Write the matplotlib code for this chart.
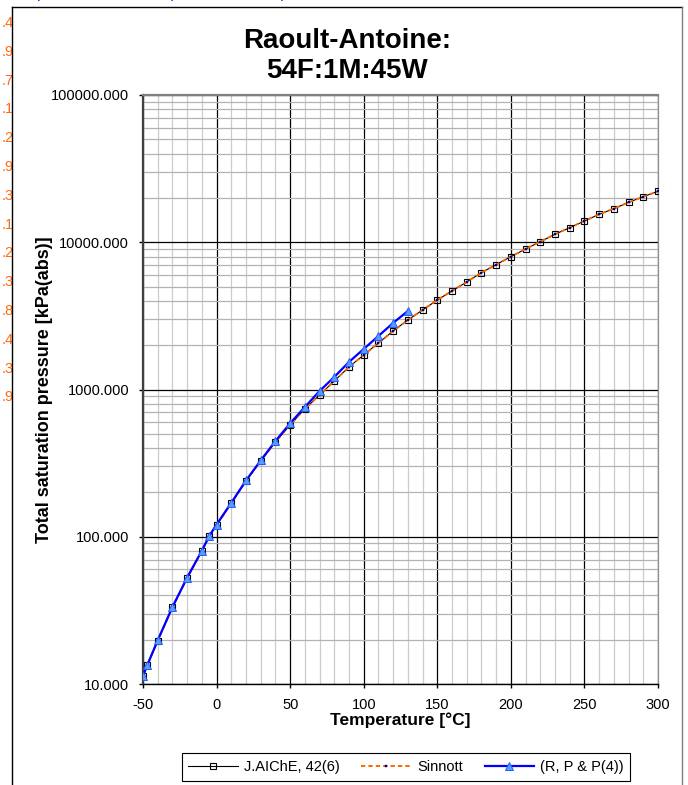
import matplotlib
matplotlib.use('Agg')
import matplotlib.pyplot as plt
from matplotlib.ticker import MultipleLocator, LogLocator, FixedLocator, NullFormatter, FuncFormatter
from matplotlib.patches import Rectangle
from matplotlib.lines import Line2D

plt.rcParams['font.family'] = ['Liberation Sans', 'DejaVu Sans']
plt.rcParams['axes.unicode_minus'] = False

# ---------------- data ----------------
temps_aiche = [-50, -47, -40, -30, -20, -10, -5, 0, 10, 20, 30, 40, 50, 60, 70, 80, 90,
               100, 110, 120, 130, 140, 150, 160, 170, 180, 190, 200, 210, 220, 230,
               240, 250, 260, 270, 280, 290, 300]
p_aiche = [11.3, 13.5, 19.7, 33.2, 52.5, 80, 101, 120, 169, 239, 327, 440, 575, 738, 918,
           1143, 1422, 1716, 2069, 2496, 2964, 3465, 4052, 4668, 5375, 6213, 7046, 7979,
           9000, 10090, 11330, 12560, 13940, 15480, 16900, 18670, 20390, 22180]

temps_sinnott = [-50, -47, -40, -30, -20, -10, -5, 0, 10, 20, 30, 40, 50, 60, 70, 80, 90,
                 100, 110, 120, 130, 140, 150, 160, 170, 180, 190, 200, 210, 220, 230,
                 240, 250, 260, 270, 280, 290, 300]
p_sinnott = [11.3, 13.5, 19.7, 33.2, 52.5, 80, 101, 120, 169, 239, 327, 440, 575, 738, 918,
             1143, 1422, 1716, 2069, 2496, 2964, 3465, 4052, 4668, 5375, 6213, 7046, 7979,
             9000, 10090, 11330, 12560, 13940, 15480, 16900, 18670, 20390, 22180]

temps_rpp = [-50, -47, -40, -30, -20, -10, -5, 0, 10, 20, 30, 40, 50, 60, 70, 80, 90,
             100, 110, 120, 130]
p_rpp = [11.3, 13.5, 19.8, 33.3, 52.8, 80.5, 101, 121, 170, 241, 330, 446, 590, 760, 977,
         1216, 1538, 1884, 2307, 2832, 3412]

series_labels = ['J.AIChE, 42(6)', 'Sinnott', '(R, P & P(4))']
x_ticks = [-50, 0, 50, 100, 150, 200, 250, 300]
y_ticks = [10, 100, 1000, 10000, 100000]
title_text = 'Raoult-Antoine:\n54F:1M:45W'
x_label = 'Temperature [°C]'
y_label = 'Total saturation pressure [kPa(abs)]'
margin_digits = ['.4', '.9', '.7', '.1', '.2', '.9', '.3', '.1', '.2', '.3', '.8', '.4', '.3', '.9']
top_note = '(based on Antoine equation constants)'

# ---------------- figure ----------------
W, H = 688, 785
fig = plt.figure(figsize=(W / 100, H / 100), dpi=100)
fig.patch.set_facecolor('white')


def fx(x):
    return x / W


def fy(y):
    return 1 - y / H


# clipped text fragments outside the chart area
for i, s in enumerate(margin_digits):
    fig.text(fx(14), fy(23 + 28.8 * i), s, ha='right', va='center', fontsize=10.5,
             color='#FF6A13', zorder=0.5)
fig.text(fx(35), fy(-1.5), top_note, ha='left', va='baseline', fontsize=10.5,
         color='#0000EE', zorder=0.5)

# chart area
fig.add_artist(Rectangle((fx(12), fy(800)), (682 - 12) / W, (800 - 7) / H,
                         transform=fig.transFigure, facecolor='white', edgecolor='none',
                         zorder=1))
fig.add_artist(Line2D([fx(12), fx(12)], [fy(7), fy(800)], transform=fig.transFigure,
                      color='black', lw=1.0, zorder=1.1))
fig.add_artist(Line2D([fx(12), fx(682)], [fy(7), fy(7)], transform=fig.transFigure,
                      color='black', lw=1.0, zorder=1.1))
fig.add_artist(Line2D([fx(682), fx(682)], [fy(7), fy(800)], transform=fig.transFigure,
                      color='#808080', lw=1.0, zorder=1.1))

fig.text(fx(347), fy(56), title_text, ha='center', va='center', fontsize=20,
         fontweight='bold', linespacing=1.15, zorder=3)

ax = fig.add_axes([fx(143), fy(684), (658 - 143) / W, (684 - 95) / H])
ax.set_zorder(2)
ax.set_facecolor('white')
ax.set_yscale('log')
ax.set_xlim(-50, 300)
ax.set_ylim(10, 100000)

ax.xaxis.set_major_locator(FixedLocator(x_ticks))
ax.xaxis.set_minor_locator(MultipleLocator(10))
ax.yaxis.set_major_locator(FixedLocator(y_ticks))
ax.yaxis.set_minor_locator(LogLocator(base=10, subs=[2, 3, 4, 5, 6, 7, 8, 9], numticks=20))
ax.yaxis.set_major_formatter(FuncFormatter(lambda v, p: f'{v:.3f}'))
ax.yaxis.set_minor_formatter(NullFormatter())

ax.tick_params(axis='both', which='major', direction='out', length=3, width=1,
               labelsize=10.5, color='black')
ax.tick_params(axis='x', which='major', pad=7)
ax.tick_params(axis='y', which='major', pad=7)
ax.tick_params(axis='both', which='minor', length=0)

ax.set_axisbelow(True)
ax.grid(True, axis='x', which='minor', color='#cccccc', lw=0.9)
ax.grid(True, axis='y', which='minor', color='#b4b4b4', lw=0.9)
ax.grid(True, axis='both', which='major', color='black', lw=0.9)

ax.spines['left'].set_color('#404040')
ax.spines['left'].set_linewidth(1.6)
ax.spines['top'].set_color('#808080')
ax.spines['top'].set_linewidth(1.6)
ax.spines['right'].set_color('#909090')
ax.spines['right'].set_linewidth(0.9)
ax.spines['bottom'].set_color('black')
ax.spines['bottom'].set_linewidth(1.0)

ax.plot(temps_aiche, p_aiche, color='black', lw=0.8, marker='s', markersize=4.6,
        markerfacecolor='none', markeredgecolor='black', markeredgewidth=0.8,
        label=series_labels[0], zorder=3)
ax.plot(temps_sinnott, p_sinnott, color='#FF6600', lw=1.4, linestyle=(0, (2.2, 1.6)),
        marker='s', markersize=2.0, markerfacecolor='#000080', markeredgecolor='#000080',
        markeredgewidth=0.3, label=series_labels[1], zorder=4)
ax.plot(temps_rpp, p_rpp, color='#0000FF', lw=1.6, marker='^', markersize=5.5,
        markerfacecolor='#5B9BFF', markeredgecolor='#1F5FFF', markeredgewidth=0.7,
        label=series_labels[2], zorder=5)

ax.set_xlabel(x_label, fontsize=12.5, fontweight='bold', va='center')
ax.xaxis.set_label_coords(0.5, -(720 - 684) / (684 - 95))
ax.set_ylabel(y_label, fontsize=13, fontweight='bold', va='center')
ax.yaxis.set_label_coords((45 - 143) / (658 - 143), 0.5)

leg = fig.legend(loc='center', bbox_to_anchor=(fx(406), fy(767)), ncol=3,
                 fontsize=10.5, frameon=True, fancybox=False, framealpha=1,
                 edgecolor='black', handlelength=3.4, handletextpad=0.4,
                 columnspacing=1.5, borderpad=0.45, numpoints=1)
leg.get_frame().set_linewidth(0.8)
leg.set_zorder(3)

fig.savefig('out.png', dpi=100, facecolor='white')
